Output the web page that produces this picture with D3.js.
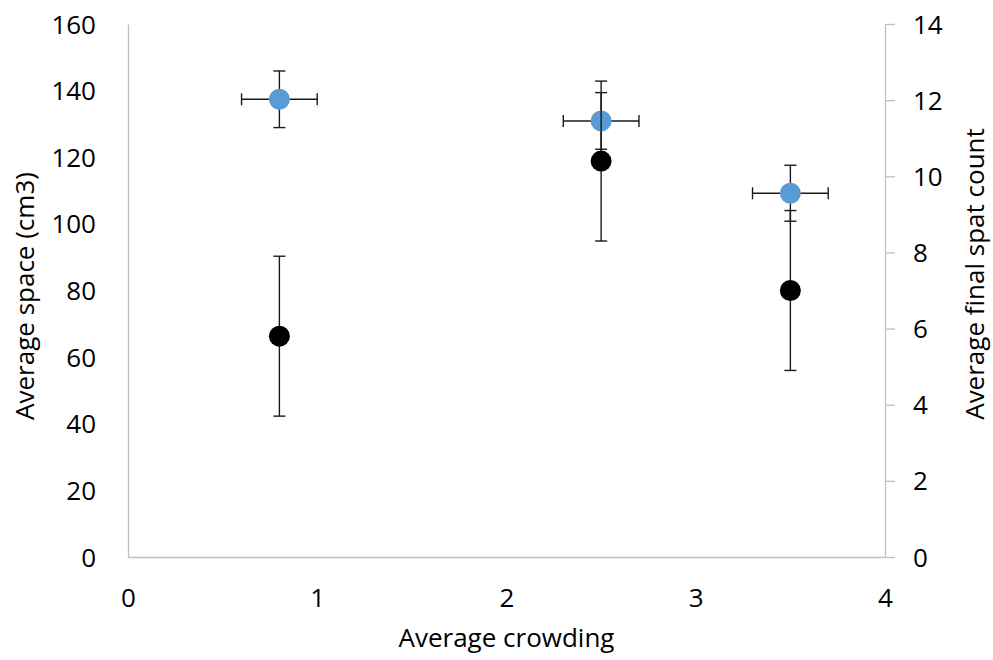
<!DOCTYPE html>
<html>
<head>
<meta charset="utf-8">
<script src="https://cdn.jsdelivr.net/npm/d3@7"></script>
<style>
  html, body { margin: 0; padding: 0; background: #fff; }
  svg { display: block; }
  text { font-family: "Open Sans", sans-serif; fill: #000; }
</style>
</head>
<body>
<svg id="chart" width="993" height="660"></svg>
<script>
// ---- Data ----
const crowding = [0.8, 2.5, 3.5];
const crowdingErr = [0.2, 0.2, 0.2];
const space = [137.4, 130.9, 109.2];
const spaceErr = [8.5, 8.5, 8.4];
const spat = [5.8, 10.4, 7.0];
const spatErr = [2.1, 2.1, 2.1];

const xTicks = [0, 1, 2, 3, 4];
const leftTicks = [0, 20, 40, 60, 80, 100, 120, 140, 160];
const rightTicks = [0, 2, 4, 6, 8, 10, 12, 14];

const xTitle = "Average crowding";
const leftTitle = "Average space (cm3)";
const rightTitle = "Average final spat count";

// ---- Layout ----
const svg = d3.select("#chart");
const L = 128, R = 885, T = 24, B = 557;
const x = d3.scaleLinear().domain([0, 4]).range([L, R]);
const yL = d3.scaleLinear().domain([0, 160]).range([B, T]);
const yR = d3.scaleLinear().domain([0, 14]).range([B, T]);

const axisColor = "#BFBFBF";
const tickFont = "26px";
const titleFont = "26px";

// Left axis (line only, no ticks)
const gL = svg.append("g").attr("transform", `translate(${L},0)`)
  .call(d3.axisLeft(yL).tickValues(leftTicks).tickSize(0).tickPadding(32).tickFormat(d3.format("d")));
gL.select(".domain").attr("stroke", axisColor).attr("stroke-width", 1.3);
gL.selectAll("text").style("font-size", tickFont).style("font-family", "Open Sans").attr("fill", "#000").attr("dy", "0.35em");

// Right axis (ticks outward)
const gR = svg.append("g").attr("transform", `translate(${R},0)`)
  .call(d3.axisRight(yR).tickValues(rightTicks).tickSizeInner(10).tickSizeOuter(0).tickPadding(18).tickFormat(d3.format("d")));
gR.select(".domain").attr("stroke", axisColor).attr("stroke-width", 1.3);
gR.selectAll(".tick line").attr("stroke", axisColor).attr("stroke-width", 1.3);
gR.selectAll("text").style("font-size", tickFont).style("font-family", "Open Sans").attr("fill", "#000").attr("dy", "0.35em");

// Bottom axis (line only)
const gB = svg.append("g").attr("transform", `translate(0,${B})`)
  .call(d3.axisBottom(x).tickValues(xTicks).tickSize(0).tickPadding(32).tickFormat(d3.format("d")));
gB.select(".domain").attr("stroke", axisColor).attr("stroke-width", 1.3);
gB.selectAll("text").style("font-size", tickFont).style("font-family", "Open Sans").attr("fill", "#000");

// Titles
svg.append("text").attr("x", (L + R) / 2).attr("y", 647)
  .attr("text-anchor", "middle").style("font-size", titleFont).text(xTitle);
svg.append("text").attr("transform", "translate(24,296) rotate(-90)")
  .attr("text-anchor", "middle").attr("dominant-baseline", "central")
  .style("font-size", titleFont).text(leftTitle);
svg.append("text").attr("transform", "translate(974,274) rotate(-90)")
  .attr("text-anchor", "middle").attr("dominant-baseline", "central")
  .style("font-size", titleFont).text(rightTitle);

// ---- Series ----
const cap = 6;
const errColor = "#1a1a1a";
const errW = 1.4;

function drawSeries(yScale, vals, errs, withX, fill) {
  const g = svg.append("g");
  const idx = d3.range(vals.length);
  idx.forEach(i => {
    const cx = x(crowding[i]);
    const y1 = yScale(vals[i] + errs[i]);
    const y2 = yScale(vals[i] - errs[i]);
    g.append("line").attr("x1", cx).attr("x2", cx).attr("y1", y1).attr("y2", y2)
      .attr("stroke", errColor).attr("stroke-width", errW);
    [y1, y2].forEach(yy => g.append("line").attr("x1", cx - cap).attr("x2", cx + cap)
      .attr("y1", yy).attr("y2", yy).attr("stroke", errColor).attr("stroke-width", errW));
    if (withX) {
      const cy = yScale(vals[i]);
      const x1 = x(crowding[i] - crowdingErr[i]);
      const x2 = x(crowding[i] + crowdingErr[i]);
      g.append("line").attr("x1", x1).attr("x2", x2).attr("y1", cy).attr("y2", cy)
        .attr("stroke", errColor).attr("stroke-width", errW);
      [x1, x2].forEach(xx => g.append("line").attr("x1", xx).attr("x2", xx)
        .attr("y1", cy - cap).attr("y2", cy + cap).attr("stroke", errColor).attr("stroke-width", errW));
    }
  });
  g.selectAll("circle").data(idx).join("circle")
    .attr("cx", i => x(crowding[i])).attr("cy", i => yScale(vals[i]))
    .attr("r", 10.5).attr("fill", fill);
}

drawSeries(yL, space, spaceErr, true, "#5B9BD5");
drawSeries(yR, spat, spatErr, false, "#000000");
</script>
</body>
</html>
